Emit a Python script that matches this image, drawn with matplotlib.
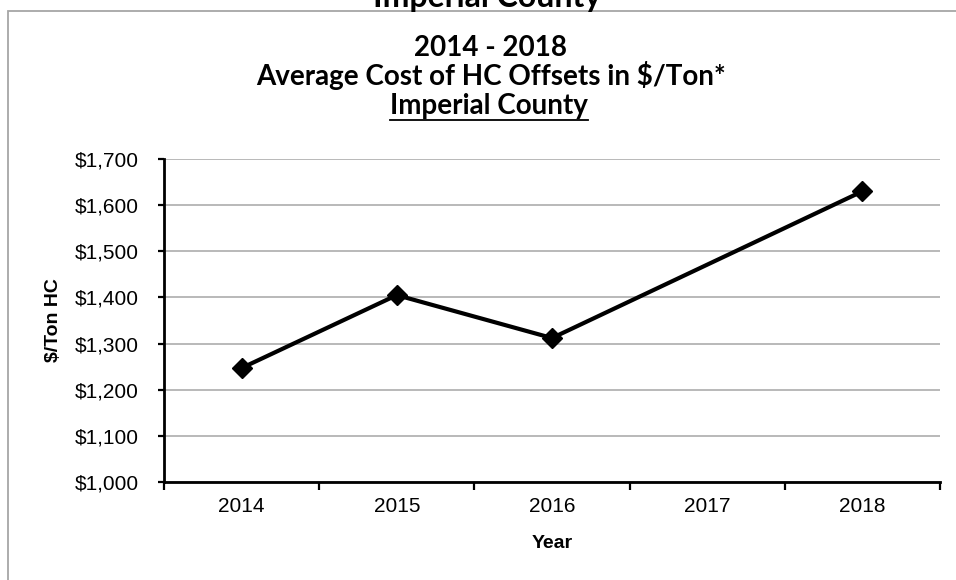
import matplotlib
matplotlib.use("Agg")
import matplotlib.pyplot as plt
import numpy as np
from matplotlib.lines import Line2D
from matplotlib.patches import Rectangle
from matplotlib.ticker import FuncFormatter

years = ["2014", "2015", "2016", "2017", "2018"]
costs = [1247, 1405, 1312, None, 1630]   # no value for 2017
y_ticks = [1000, 1100, 1200, 1300, 1400, 1500, 1600, 1700]

W, H = 956, 580
fig = plt.figure(figsize=(W / 100, H / 100), dpi=100)

def fx(px):
    return px / W

def fy(py):
    return 1 - py / H

# grey frame round the chart (runs off the right and bottom edges)
fig.add_artist(Rectangle((fx(8), fy(600)), fx(1000), fy(11) - fy(600),
                         transform=fig.transFigure, fill=False,
                         edgecolor="#a6a6a6", linewidth=1.3))

ax = fig.add_axes([fx(164), fy(482), fx(940) - fx(164), fy(159) - fy(482)])

x = np.arange(len(years))
xv = [i for i, c in zip(x, costs) if c is not None]
yv = [c for c in costs if c is not None]
ax.plot(xv, yv, color="black", linewidth=3.0, marker="D", markersize=10,
        solid_joinstyle="miter")

ax.set_xlim(-0.5, len(years) - 0.5)
ax.set_ylim(y_ticks[0], y_ticks[-1])
ax.set_yticks(y_ticks)
ax.yaxis.set_major_formatter(FuncFormatter(lambda v, p: "${:,.0f}".format(v)))
ax.set_xticks(x)
ax.set_xticklabels(years)
ax.set_xticks(np.arange(len(years) + 1) - 0.5, minor=True)

ax.grid(axis="y", color="#a6a6a6", linewidth=1.1)
ax.set_axisbelow(True)
for s in ["top", "right"]:
    ax.spines[s].set_visible(False)
for s in ["left", "bottom"]:
    ax.spines[s].set_linewidth(2.0)

ax.tick_params(axis="y", direction="out", length=4, width=1.6, pad=14,
               labelsize=15)
ax.tick_params(axis="x", which="major", length=0, pad=11, labelsize=15)
ax.tick_params(axis="x", which="minor", direction="out", length=5.5, width=1.6)
for lab in ax.get_xticklabels() + ax.get_yticklabels():
    lab.set_fontfamily("Liberation Sans")

fig.text(fx(552), fy(548), "Year", ha="center", va="baseline",
         fontsize=14, fontweight="bold", family="Liberation Sans")
fig.text(fx(54), fy(320), "$/Ton HC", ha="center", va="center", rotation=90,
         fontsize=14, fontweight="bold", family="Liberation Sans")

# titles
fig.text(fx(487), fy(7), "Imperial County", ha="center", va="baseline",
         fontsize=23, fontweight="bold", family="Lato")
fig.text(fx(490), fy(56), "2014 - 2018", ha="center", va="baseline",
         fontsize=20, fontweight="bold", family="Lato")
fig.text(fx(491), fy(85), "Average Cost of HC Offsets in $/Ton*", ha="center",
         va="baseline", fontsize=20, fontweight="bold", family="Lato")
county = fig.text(fx(489), fy(114), "Imperial County", ha="center",
                  va="baseline", fontsize=20, fontweight="bold", family="Lato")

fig.canvas.draw()
bb = county.get_window_extent()
fig.add_artist(Line2D([bb.x0 / W, bb.x1 / W], [fy(120), fy(120)],
                      transform=fig.transFigure, color="black", linewidth=1.3))

fig.savefig("out.png", dpi=100)
